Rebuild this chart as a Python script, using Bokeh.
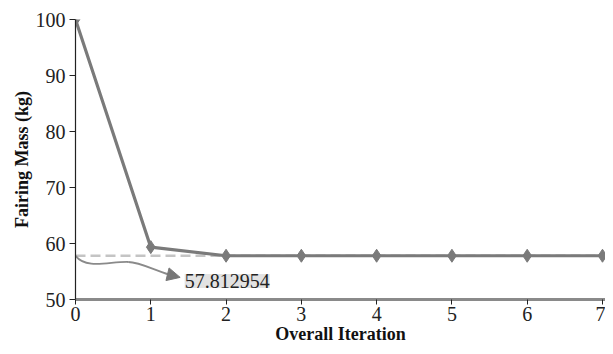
from bokeh.plotting import figure
from bokeh.models import Range1d, FixedTicker, Label, Arrow, NormalHead, ColumnDataSource
from bokeh.embed import file_html
from bokeh.resources import INLINE

iterations = [0, 1, 2, 3, 4, 5, 6, 7]
mass = [100.0, 59.35, 57.812954, 57.812954, 57.812954, 57.812954, 57.812954, 57.812954]
optimum = 57.812954
y_ticks = [50, 60, 70, 80, 90, 100]
ann_text = "57.812954"

# annotation curve (two cubic segments) and arrow tip, in data units
curve_x0 = [0.0, 0.70]
curve_y0 = [57.8, 56.7]
curve_cx0 = [0.15, 0.86]
curve_cy0 = [55.3, 56.7]
curve_cx1 = [0.45, 1.10]
curve_cy1 = [56.8, 54.9]
curve_x1 = [0.70, 1.32]
curve_y1 = [56.7, 54.15]

SERIF = "Liberation Serif"
GRAY = "#7a7a7a"

p = figure(width=605, height=346, output_backend="svg", toolbar_location=None,
           x_range=Range1d(0, 7.04), y_range=Range1d(50, 100),
           min_border_left=75, min_border_right=0, min_border_top=19)
p.outline_line_color = None
p.grid.visible = False

# dashed reference line
p.line([0, 7], [optimum, optimum], line_color="#c4c4c4", line_width=2.5, line_dash="10 5")

# main series
p.line(iterations, mass, line_color=GRAY, line_width=3.2)
p.scatter(iterations, mass, marker="diamond", size=13, fill_color=GRAY, line_color=GRAY)

# curved annotation arrow
src = ColumnDataSource(dict(x0=curve_x0, y0=curve_y0, cx0=curve_cx0, cy0=curve_cy0,
                            cx1=curve_cx1, cy1=curve_cy1, x1=curve_x1, y1=curve_y1))
p.bezier(x0="x0", y0="y0", x1="x1", y1="y1", cx0="cx0", cy0="cy0", cx1="cx1", cy1="cy1",
         source=src, line_color="#8a8a8a", line_width=1.8)
p.add_layout(Arrow(x_start=1.30, y_start=54.25, x_end=1.39, y_end=53.95,
                   line_color="#8a8a8a", line_width=1.8,
                   end=NormalHead(size=13, fill_color="#777777", line_color="#777777")))

p.add_layout(Label(x=1.45, y=53.3, text=ann_text, text_font=SERIF, text_font_size="20px",
                   text_baseline="middle", text_color="#222222",
                   background_fill_color="#e2e2e2", background_fill_alpha=1.0))

# axes
p.xaxis.ticker = FixedTicker(ticks=iterations)
p.yaxis.ticker = FixedTicker(ticks=y_ticks)
p.xaxis.axis_label = "Overall Iteration"
p.yaxis.axis_label = "Fairing Mass (kg)"
for ax in (p.xaxis[0], p.yaxis[0]):
    ax.axis_label_text_font = SERIF
    ax.axis_label_text_font_style = "bold"
    ax.axis_label_text_font_size = "18px"
    ax.axis_label_text_color = "#111111"
    ax.major_label_text_font = SERIF
    ax.major_label_text_font_size = "20px"
    ax.major_label_text_color = "#222222"
    ax.minor_tick_line_color = None
    ax.major_tick_in = 0
    ax.major_tick_out = 6
    ax.major_tick_line_color = "#222222"

p.yaxis.axis_line_color = "#222222"
p.yaxis.axis_line_width = 1.2
p.yaxis.major_label_standoff = 4
p.yaxis.axis_label_standoff = 1
p.xaxis.axis_line_color = "#8a8a8a"
p.xaxis.axis_line_width = 3
p.xaxis.major_tick_out = 5
p.xaxis.major_label_standoff = 2
p.xaxis.axis_label_standoff = 0

open("out.html", "w").write(file_html(p, INLINE))
